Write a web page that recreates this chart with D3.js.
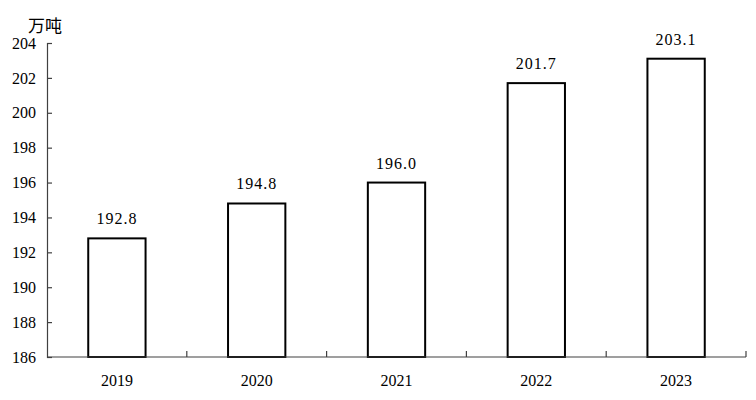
<!DOCTYPE html>
<html>
<head>
	<meta charset="utf-8">
	<title>万吨</title>
	<style>
		body { margin: 0; background: #fff; }
		.axis path, .axis line { stroke: #404040; stroke-width: 1.2px; }
	</style>
	<script src="https://cdn.jsdelivr.net/npm/d3@7/dist/d3.min.js"></script>
</head>
<body>
	<script type="text/javascript">
		// data
		var years = ["2019", "2020", "2021", "2022", "2023"];
		var values = [192.8, 194.8, 196.0, 201.7, 203.1];
		var yTicks = [186, 188, 190, 192, 194, 196, 198, 200, 202, 204];
		var unitLabel = "万吨";

		var numFont = "Liberation Serif, Times New Roman, serif";
		var width = 756, height = 400;
		var margin = {top: 43, right: 10, bottom: 43, left: 47};
		var plotW = 746 - margin.left;
		var plotH = 357 - margin.top;

		var svg = d3.select("body").append("svg")
			.attr("width", width)
			.attr("height", height);

		var g = svg.append("g")
			.attr("transform", "translate(" + margin.left + "," + margin.top + ")");

		var x = d3.scaleBand().domain(years).range([0, plotW]).padding(0);
		var y = d3.scaleLinear().domain([186, 204]).range([plotH, 0]);

		var barW = x.bandwidth() * 0.41;

		// bars
		g.selectAll(".bar")
			.data(values)
			.enter()
			.append("rect")
			.attr("class", "bar")
			.attr("x", function(d, i) { return x(years[i]) + (x.bandwidth() - barW) / 2; })
			.attr("y", function(d) { return y(d); })
			.attr("width", barW)
			.attr("height", function(d) { return plotH - y(d); })
			.attr("fill", "#fff")
			.attr("stroke", "#000")
			.attr("stroke-width", 2);

		// value labels
		g.selectAll(".val")
			.data(values)
			.enter()
			.append("text")
			.attr("class", "val")
			.attr("x", function(d, i) { return x(years[i]) + x.bandwidth() / 2; })
			.attr("y", function(d) { return y(d) - 14; })
			.attr("text-anchor", "middle")
			.attr("font-family", numFont)
			.attr("font-size", 16)
			.attr("letter-spacing", 1)
			.attr("fill", "#000")
			.text(function(d) { return d.toFixed(1); });

		// y axis, ticks point inward
		var yAxis = d3.axisLeft(y)
			.tickValues(yTicks)
			.tickSizeInner(-5)
			.tickSizeOuter(-5)
			.tickPadding(11)
			.tickFormat(d3.format("d"));
		g.append("g").attr("class", "axis").call(yAxis)
			.attr("font-family", numFont)
			.attr("font-size", 16);

		// x axis, boundary ticks pointing up
		var xAxis = d3.axisBottom(x).tickSize(0).tickPadding(18);
		var gx = g.append("g").attr("class", "axis")
			.attr("transform", "translate(0," + plotH + ")")
			.call(xAxis)
			.attr("font-family", numFont)
			.attr("font-size", 16);
		gx.select(".domain").remove();
		gx.append("line").attr("x1", 0).attr("x2", plotW).attr("y1", 0).attr("y2", 0);
		gx.selectAll(".bound")
			.data(years)
			.enter()
			.append("line")
			.attr("class", "bound")
			.attr("x1", function(d) { return x(d) + x.bandwidth(); })
			.attr("x2", function(d) { return x(d) + x.bandwidth(); })
			.attr("y1", 0)
			.attr("y2", -6);

		// unit
		svg.append("text")
			.attr("x", 28)
			.attr("y", 32)
			.attr("font-family", "Noto Sans CJK SC, sans-serif")
			.attr("font-size", 17)
			.attr("fill", "#000")
			.text(unitLabel);
	</script>
</body>
</html>
